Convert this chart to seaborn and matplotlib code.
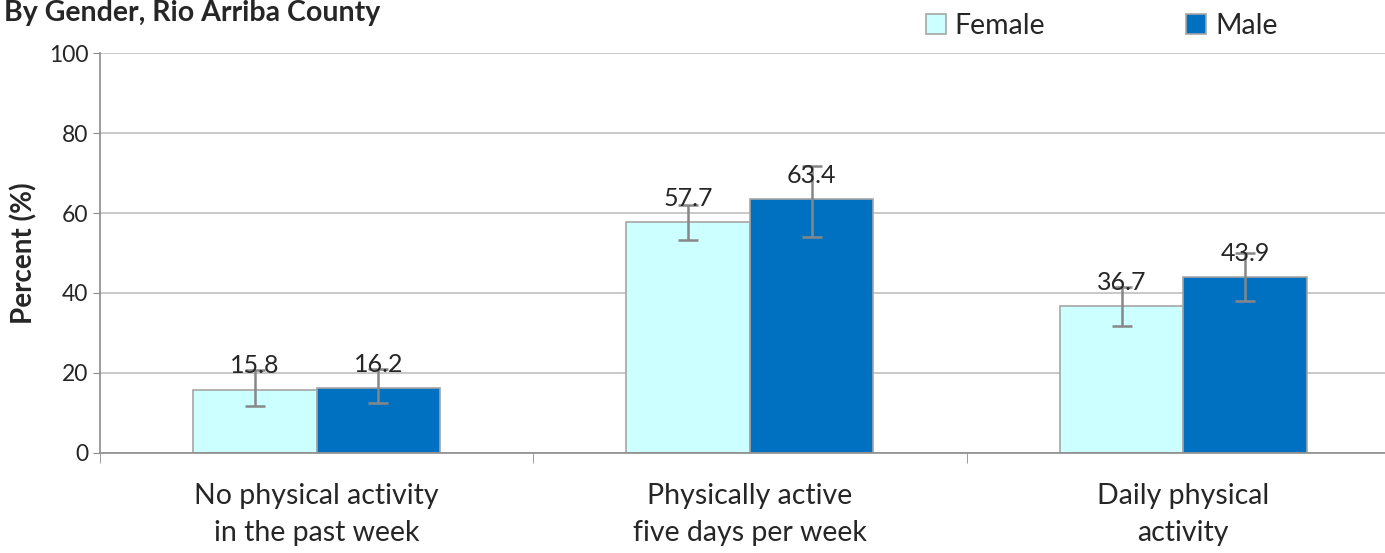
import seaborn as sns
import pandas as pd
import matplotlib.pyplot as plt
from matplotlib.ticker import FixedLocator

categories = ["No physical activity\nin the past week",
              "Physically active\nfive days per week",
              "Daily physical\nactivity"]
female = [15.8, 57.7, 36.7]
male = [16.2, 63.4, 43.9]
female_low = [11.8, 53.3, 31.7]
female_high = [20.8, 62.0, 41.6]
male_low = [12.5, 54.1, 38.0]
male_high = [21.0, 71.8, 50.1]

sns.set_style("white")
plt.rcParams['font.family'] = ['Lato', 'DejaVu Sans']

df = pd.DataFrame({
    "Category": categories * 2,
    "Gender": ["Female"] * 3 + ["Male"] * 3,
    "Percent": female + male,
})

fig = plt.figure(figsize=(13.85, 5.53), dpi=100)
ax = fig.add_axes([0.0722, 0.181, 0.9386, 0.723])

sns.barplot(df, x="Category", y="Percent", hue="Gender",
            palette={"Female": "#CCFFFF", "Male": "#0070C0"}, saturation=1,
            width=0.57, edgecolor="#A6A6A6", linewidth=1.2,
            errorbar=None, ax=ax, zorder=2)

# error bars and value labels, placed at the bar centres seaborn drew
lows = female_low + male_low
highs = female_high + male_high
vals = female + male
for bar, v, lo, hi in zip(ax.patches[:6], vals, lows, highs):
    x = bar.get_x() + bar.get_width() / 2
    ax.errorbar(x, v, yerr=[[v - lo], [hi - v]], fmt="none",
                ecolor="#878787", elinewidth=1.8, capsize=7, capthick=1.8, zorder=3)
    ax.annotate(f"{v:.1f}", (x, v), xytext=(0, 9), textcoords="offset points",
                ha="center", va="bottom", fontsize=18, zorder=4)

ax.set_ylim(0, 100)
ax.set_xlim(-0.5, 2.5)
ax.set_yticks(range(0, 101, 20))
ax.yaxis.grid(True, color="#BFBFBF", linewidth=1.2, zorder=0)
ax.set_axisbelow(True)
ax.tick_params(axis="y", labelsize=16.5, length=5, direction="out", color="#8C8C8C", left=True)
ax.tick_params(axis="x", labelsize=20.5, length=0, pad=22)
for lbl in ax.get_xticklabels():
    lbl.set_linespacing(1.5)
ax.xaxis.set_minor_locator(FixedLocator([-0.5, 0.5, 1.5]))
ax.tick_params(axis="x", which="minor", length=7, direction="out", color="#8C8C8C", bottom=True)
for s in ["top", "right"]:
    ax.spines[s].set_visible(False)
for s in ["left", "bottom"]:
    ax.spines[s].set_color("#8C8C8C")
    ax.spines[s].set_linewidth(1.2)

ax.set_xlabel("")
ax.set_ylabel("Percent (%)", fontsize=20, fontweight="bold", labelpad=8)

leg = ax.legend(loc="upper left", bbox_to_anchor=(0.616, 1.165), ncol=2, frameon=False,
                fontsize=20.5, handlelength=0.7, handleheight=0.7, columnspacing=4.95,
                handletextpad=0.3)

fig.text(0.003, 1.0, "By Gender, Rio Arriba County", fontsize=20.5, fontweight="bold",
         ha="left", va="top")

fig.savefig("out.png", dpi=100)
